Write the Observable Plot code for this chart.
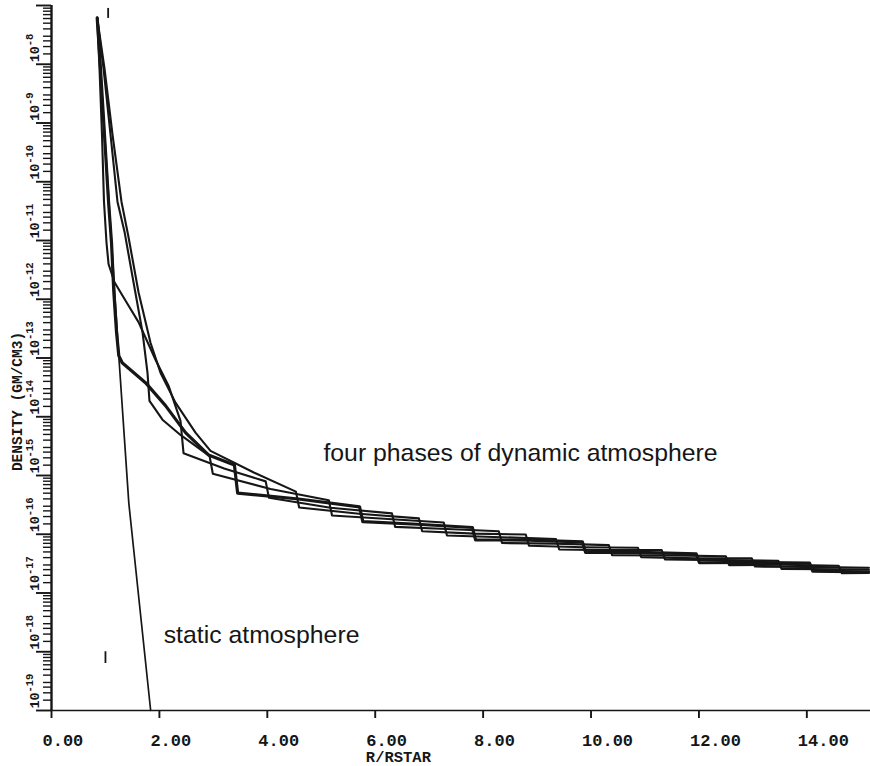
<!DOCTYPE html>
<html>
<head>
<meta charset="utf-8">
<script src="https://cdn.jsdelivr.net/npm/d3@7"></script>
<script src="https://cdn.jsdelivr.net/npm/@observablehq/plot@0.6"></script>
<style>
  html, body { margin: 0; padding: 0; background: #ffffff; }
  #chart svg { display: block; }
</style>
</head>
<body>
<div id="chart"></div>
<script>
// ---- data: radius (R/RSTAR) and log10 density (gm/cm^3) ----
const staticR   = [0.847, 1.247, 1.433, 1.838];
const staticLog = [-7.21, -12.96, -15.47, -19.0];

const phase1R   = [0.847, 0.908, 0.982, 1.057, 1.112, 1.155, 1.205, 1.247, 1.310, 1.742, 2.113, 2.484, 2.910, 3.39, 3.45, 4.58, 5.71, 5.77, 6.78, 7.80, 7.86, 8.84, 9.84, 9.90, 10.9, 11.95, 12.01, 13.02, 14.05, 14.11, 15.15];
const phase1Log = [-7.21, -8.07, -9.20, -10.34, -11.03, -11.88, -12.56, -12.96, -13.08, -13.42, -13.81, -14.27, -14.65, -14.82, -15.30, -15.40, -15.535, -15.785, -15.83, -15.885, -16.095, -16.10, -16.13, -16.31, -16.31, -16.335, -16.485, -16.48, -16.49, -16.63, -16.64];

const phase2R   = [0.847, 0.890, 0.936, 0.973, 1.019, 1.057, 1.168, 1.390, 1.613, 1.928, 2.169, 2.391, 2.447, 3.2, 3.97, 4.03, 5.17, 6.31, 6.37, 7.33, 8.29, 8.35, 9.34, 10.33, 10.39, 11.45, 12.50, 12.56, 13.58, 14.59, 14.65, 15.15];
const phase2Log = [-7.21, -8.07, -9.20, -10.34, -11.03, -11.40, -11.71, -12.05, -12.39, -13.03, -13.47, -14.07, -14.62, -14.88, -15.10, -15.38, -15.55, -15.645, -15.875, -15.91, -15.95, -16.15, -16.16, -16.185, -16.355, -16.36, -16.375, -16.525, -16.52, -16.535, -16.665, -16.66];

const phase3R   = [0.847, 0.964, 1.094, 1.223, 1.353, 1.520, 1.687, 1.779, 1.816, 2.057, 2.391, 2.93, 2.99, 4.06, 5.14, 5.20, 6.24, 7.27, 7.33, 8.34, 9.35, 9.41, 10.36, 11.31, 11.37, 12.42, 13.47, 13.53, 15.15];
const phase3Log = [-7.21, -8.07, -9.20, -10.34, -10.85, -11.71, -12.56, -13.25, -13.73, -14.05, -14.31, -14.67, -14.97, -15.23, -15.42, -15.68, -15.74, -15.80, -16.02, -16.05, -16.08, -16.26, -16.27, -16.27, -16.43, -16.44, -16.45, -16.59, -16.60];

const phase4R   = [0.847, 0.982, 1.131, 1.297, 1.427, 1.613, 1.835, 2.020, 2.298, 2.669, 2.947, 3.75, 4.53, 4.59, 5.70, 6.81, 6.87, 7.83, 8.79, 8.85, 9.86, 10.87, 10.93, 11.95, 12.98, 13.04, 14.0, 15.15];
const phase4Log = [-7.21, -8.07, -9.20, -10.34, -10.94, -11.88, -12.74, -13.25, -13.76, -14.27, -14.58, -14.95, -15.275, -15.545, -15.65, -15.73, -15.95, -15.99, -16.005, -16.195, -16.22, -16.23, -16.39, -16.41, -16.41, -16.55, -16.555, -16.57];

// small reference marks near R = 1
const markR    = [1.05, 1.0];
const markLogA = [-7.05, -18.0];
const markLogB = [-7.22, -18.2];

// axes
const xTicks      = [0, 2, 4, 6, 8, 10, 12, 14];
const yMajorExps  = [-19, -18, -17, -16, -15, -14, -13, -12, -11, -10, -9, -8, -7];
const yLabelExps  = [-19, -18, -17, -16, -15, -14, -13, -12, -11, -10, -9, -8];
const yMinorMults = [1.5, 2, 2.5, 3, 4, 5, 6, 7, 8, 9];

// annotations
const notes = [
  {r: 5.04, logRho: -14.61, text: "four phases of dynamic atmosphere"},
  {r: 2.08, logRho: -17.71, text: "static atmosphere"}
];

// ---- layout ----
const W = 870, H = 766, mL = 35, mR = 0, mT = 5, mB = 44;
const xMax = 15.18, yTopExp = -7, yAxisExp = -19;
const pxPerX = 53.95;
const pxPerDecade = 58.75;
const xMin = -(51 - mL) / pxPerX;
const yBottomExp = yAxisExp - 12 / pxPerDecade;
const yAxisVal = 10 ** yAxisExp;

// ---- build tables ----
const toRows = (rs, ls, name) => rs.map((r, i) => ({r, rho: 10 ** ls[i], name}));
const staticRows = toRows(staticR, staticLog, "static");
const dyn = [
  {rows: toRows(phase1R, phase1Log, "p1"), w: 3.2},
  {rows: toRows(phase2R, phase2Log, "p2"), w: 2.1},
  {rows: toRows(phase3R, phase3Log, "p3"), w: 2.1},
  {rows: toRows(phase4R, phase4Log, "p4"), w: 2.1}
];
const refMarks = markR.map((r, i) => ({r, a: 10 ** markLogA[i], b: 10 ** markLogB[i]}));

const minorRows = [];
for (const e of yMajorExps.slice(0, -1)) for (const m of yMinorMults) minorRows.push({rho: m * 10 ** e, a: -8 / pxPerX, b: 0});
const majorRows = yMajorExps.map(e => ({rho: 10 ** e, a: -15 / pxPerX, b: 0}));
const xTickRows = xTicks.map(t => ({r: t, a: yAxisVal, b: 10 ** (yAxisExp - 8 / pxPerDecade)}));
const noteRows = notes.map(d => ({...d, rho: 10 ** d.logRho}));

const ink = "#161616";
const mono = "'Liberation Mono', 'DejaVu Sans Mono', monospace";

const chart = Plot.plot({
  width: W,
  height: H,
  marginLeft: mL,
  marginRight: mR,
  marginTop: mT,
  marginBottom: mB,
  style: {background: "#ffffff", color: ink},
  x: {domain: [xMin, xMax], axis: null},
  y: {type: "log", domain: [10 ** yBottomExp, 10 ** yTopExp], axis: null},
  marks: [
    // y tick labels 10^n (rotated)
    Plot.text(yLabelExps, {
      x: () => 0, y: e => 10 ** e, text: () => "10",
      rotate: -90, textAnchor: "start", lineAnchor: "middle",
      dx: -17, dy: -2, fontFamily: mono, fontWeight: "bold", fontSize: 13.5, fill: ink
    }),
    Plot.text(yLabelExps, {
      x: () => 0, y: e => 10 ** e, text: e => String(e),
      rotate: -90, textAnchor: "start", lineAnchor: "middle",
      dx: -22, dy: -18, fontFamily: mono, fontWeight: "bold", fontSize: 10.5, fill: ink
    }),
    // y axis title
    Plot.text([{rho: 10 ** -13.74}], {
      x: () => 0, y: "rho", text: () => "DENSITY (GM/CM3)",
      rotate: -90, textAnchor: "middle", lineAnchor: "middle",
      dx: -34, fontFamily: mono, fontWeight: "bold", fontSize: 14.5, fill: ink
    }),
    // x tick labels
    Plot.text(xTicks, {
      x: d => d, y: () => yAxisVal, text: d => d.toFixed(2),
      textAnchor: "start", lineAnchor: "middle", dx: -9, dy: 30,
      fontFamily: mono, fontWeight: "bold", fontSize: 17, fill: ink
    }),
    Plot.text(["R/RSTAR"], {
      x: () => 6.43, y: () => yAxisVal, text: d => d,
      textAnchor: "middle", lineAnchor: "middle", dy: 47,
      fontFamily: mono, fontWeight: "bold", fontSize: 15.5, fill: ink
    }),
    // small marks
    Plot.ruleX(refMarks, {x: "r", y1: "a", y2: "b", stroke: ink, strokeWidth: 1.8}),
    // static atmosphere
    Plot.line(staticRows, {x: "r", y: "rho", stroke: ink, strokeWidth: 1.7}),
    // dynamic atmosphere phases
    ...dyn.map(d => Plot.line(d.rows, {x: "r", y: "rho", stroke: ink, strokeWidth: d.w, strokeLinejoin: "round"})),
    // annotations
    Plot.text(noteRows, {
      x: "r", y: "rho", text: "text", textAnchor: "start", lineAnchor: "middle",
      fontFamily: "'Liberation Sans', Arial, sans-serif", fontSize: 24.8, fill: ink
    }),
    // axis lines
    Plot.ruleX([0], {y1: yAxisVal, y2: 10 ** yTopExp, stroke: ink, strokeWidth: 2.4}),
    Plot.ruleY([yAxisVal], {x1: 0, x2: xMax, stroke: ink, strokeWidth: 1.6}),
    // ticks
    Plot.ruleY(minorRows, {y: "rho", x1: "a", x2: "b", stroke: ink, strokeWidth: 1.4}),
    Plot.ruleY(majorRows, {y: "rho", x1: "a", x2: "b", stroke: ink, strokeWidth: 1.9}),
    Plot.ruleX(xTickRows, {x: "r", y1: "a", y2: "b", stroke: ink, strokeWidth: 1.9})
  ]
});

document.getElementById("chart").appendChild(chart);
</script>
</body>
</html>
